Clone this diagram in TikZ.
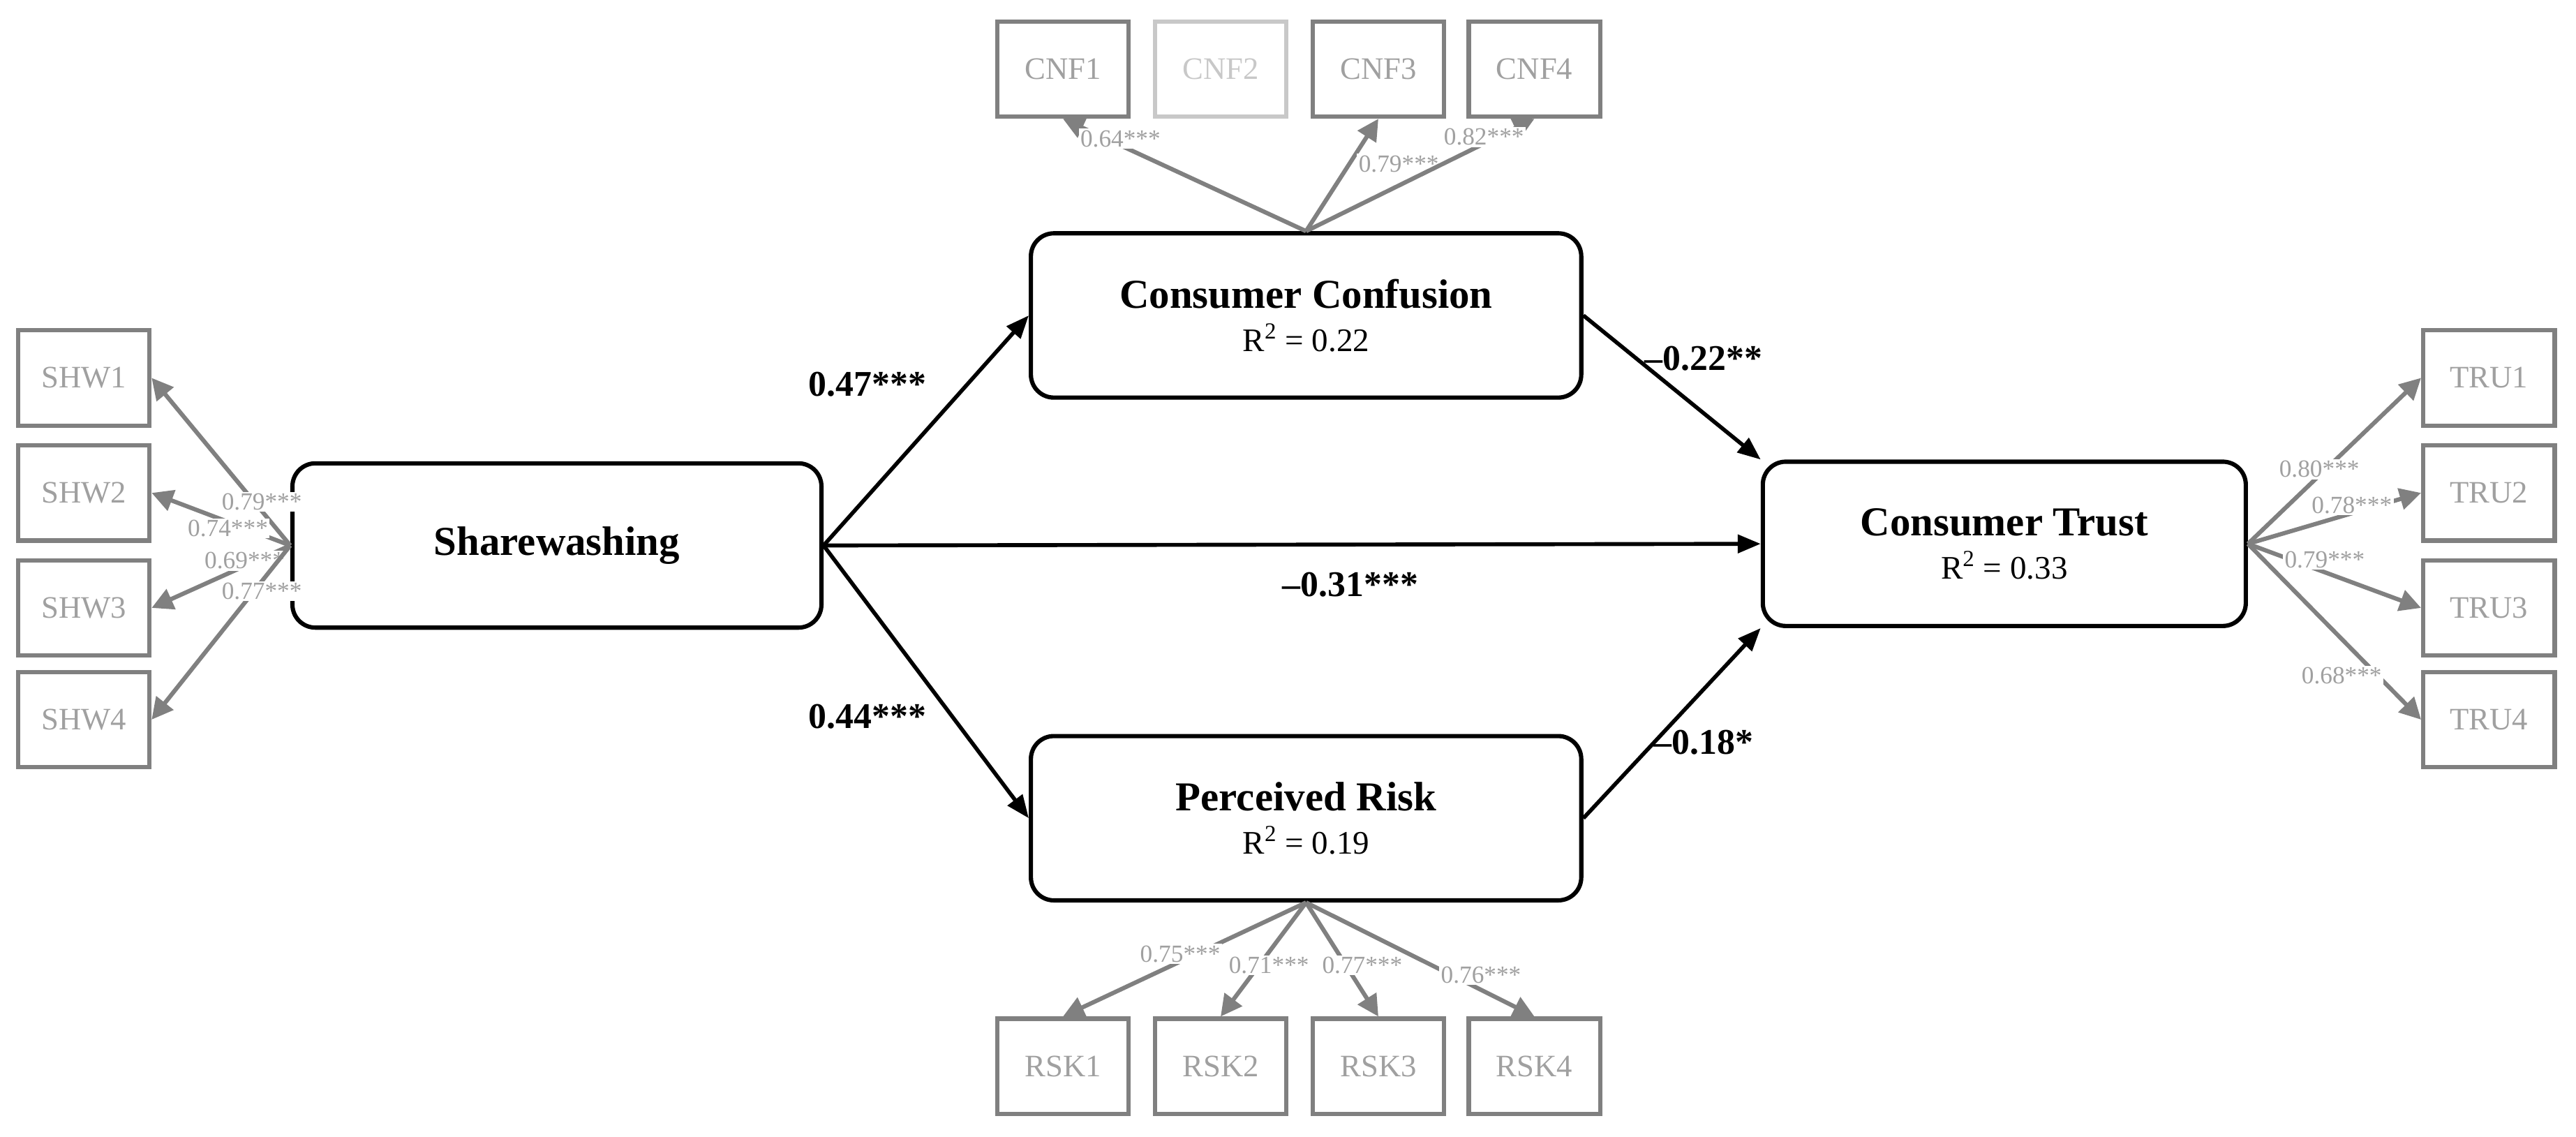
\documentclass[tikz,border=0pt]{standalone}
\usepackage{fontspec}
\setmainfont{Liberation Serif}
\usetikzlibrary{arrows.meta}
\definecolor{g1}{HTML}{808080}
\definecolor{gt}{HTML}{A0A0A0}
\definecolor{gl}{HTML}{C8C8C8}
\begin{document}
\begin{tikzpicture}[x=1pt,y=-1pt,
 lat/.style={draw=black,line width=2.6pt,rounded corners=14pt,minimum width=#1,minimum height=100pt,align=center,inner sep=0pt},
 ind/.style={draw=g1,line width=2.6pt,minimum width=80pt,minimum height=58pt,inner sep=0pt,text=gt,font=\fontsize{19}{19}\selectfont},
 ia/.style={draw=g1,line width=2.6pt,-{Triangle[length=13pt,width=13pt]}},
 pa/.style={draw=black,line width=2.4pt,-{Triangle[length=14pt,width=11pt]}},
 ll/.style={fill=white,text=gt,inner sep=1pt,font=\fontsize{15}{15}\selectfont},
 pl/.style={font=\bfseries\fontsize{22}{22}\selectfont}]
\useasboundingbox (0,0) rectangle (1568,692);
\node[lat=322pt] (S) at (339,332) {\textbf{\fontsize{25}{25}\selectfont Sharewashing}};
\node[lat=335pt] (C) at (795,192) {\textbf{\fontsize{25}{25}\selectfont Consumer Confusion}\\[8pt]{\fontsize{20}{20}\selectfont R\textsuperscript{2} = 0.22}};
\node[lat=335pt] (P) at (795,498) {\textbf{\fontsize{25}{25}\selectfont Perceived Risk}\\[8pt]{\fontsize{20}{20}\selectfont R\textsuperscript{2} = 0.19}};
\node[lat=294pt] (T) at (1220,331) {\textbf{\fontsize{25}{25}\selectfont Consumer Trust}\\[8pt]{\fontsize{20}{20}\selectfont R\textsuperscript{2} = 0.33}};
% indicators
\node[ind] (s1) at (51,230) {SHW1};
\node[ind] (s2) at (51,300) {SHW2};
\node[ind] (s3) at (51,370) {SHW3};
\node[ind] (s4) at (51,438) {SHW4};
\node[ind] (t1) at (1515,230) {TRU1};
\node[ind] (t2) at (1515,300) {TRU2};
\node[ind] (t3) at (1515,370) {TRU3};
\node[ind] (t4) at (1515,438) {TRU4};
\node[ind] (c1) at (647,42) {CNF1};
\node[ind,draw=gl,text=gl] (c2) at (743,42) {CNF2};
\node[ind] (c3) at (839,42) {CNF3};
\node[ind] (c4) at (934,42) {CNF4};
\node[ind] (r1) at (647,649) {RSK1};
\node[ind] (r2) at (743,649) {RSK2};
\node[ind] (r3) at (839,649) {RSK3};
\node[ind] (r4) at (934,649) {RSK4};
% indicator arrows
\draw[ia] (S.west) -- (s1.east) node[ll,pos=0.3,xshift=8pt,yshift=-4pt]{0.79***};
\draw[ia] (S.west) -- (s2.east) node[ll,pos=0.45,yshift=-4pt]{0.74***};
\draw[ia] (S.west) -- (s3.east) node[ll,pos=0.4,xshift=6pt,yshift=6pt]{0.69***};
\draw[ia] (S.west) -- (s4.east) node[ll,pos=0.3,xshift=8pt,yshift=4pt]{0.77***};
\draw[ia] (T.east) -- (t1.west) node[ll,pos=0.45,xshift=-4pt]{0.80***};
\draw[ia] (T.east) -- (t2.west) node[ll,pos=0.6,yshift=5pt]{0.78***};
\draw[ia] (T.east) -- (t3.west) node[ll,pos=0.5,xshift=-6pt,yshift=10pt]{0.79***};
\draw[ia] (T.east) -- (t4.west) node[ll,pos=0.75,xshift=-22pt,yshift=0pt]{0.68***};
\draw[ia] (C.north) -- (c1.south) node[ll,pos=0.75,xshift=-2pt,yshift=5pt]{0.64***};
\draw[ia] (C.north) -- (c3.south) node[ll,pos=0.6,xshift=30pt]{0.79***};
\draw[ia] (C.north) -- (c4.south) node[ll,pos=0.75,xshift=4pt,yshift=6pt]{0.82***};
\draw[ia] (P.south) -- (r1.north) node[ll,pos=0.45,xshift=-10pt,yshift=0pt]{0.75***};
\draw[ia] (P.south) -- (r2.north) node[ll,pos=0.55,xshift=6pt]{0.71***};
\draw[ia] (P.south) -- (r3.north) node[ll,pos=0.55,xshift=10pt]{0.77***};
\draw[ia] (P.south) -- (r4.north) node[ll,pos=0.55,xshift=30pt,yshift=-6pt]{0.76***};
% structural paths
\draw[pa] (S.east) -- (C.west);
\draw[pa] (S.east) -- (P.west);
\draw[pa] (S.east) -- (T.west);
\draw[pa] (C.east) -- (T.north west);
\draw[pa] (P.east) -- (T.south west);
\node[pl] (l1) at (528,234) {0.47***};
\node[pl] (l2) at (528,436) {0.44***};
\node[pl] (l3) at (822,356) {--0.31***};
\node[pl] (l4) at (1037,218) {--0.22**};
\node[pl] (l5) at (1037,452) {--0.18*};
\end{tikzpicture}
\end{document}
